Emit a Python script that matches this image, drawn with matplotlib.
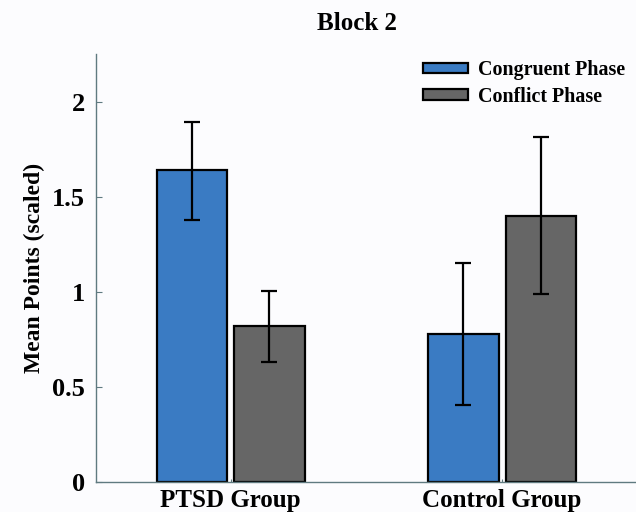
import matplotlib
matplotlib.use("Agg")
import matplotlib.pyplot as plt
import numpy as np
from matplotlib.patches import Patch

groups = ["PTSD Group", "Control Group"]
series_names = ["Congruent Phase", "Conflict Phase"]
congruent = [1.64, 0.78]
conflict = [0.82, 1.40]
congruent_err_lo = [0.26, 0.375]
congruent_err_hi = [0.255, 0.375]
conflict_err_lo = [0.19, 0.41]
conflict_err_hi = [0.185, 0.415]
yticks = [0, 0.5, 1, 1.5, 2]
ytick_labels = ["0", "0.5", "1", "1.5", "2"]

plt.rcParams['font.family'] = ['Liberation Serif', 'DejaVu Serif']
plt.rcParams['font.weight'] = 'bold'

bg = "#fcfcfe"
blue = "#3a7bc3"
gray = "#666666"
axis_col = "#5f7a80"

fig = plt.figure(figsize=(6.36, 5.12), dpi=100, facecolor=bg)
ax = fig.add_axes([96/636, 1-482/512, 540/636, (482-54)/512], facecolor=bg)

x = np.arange(len(groups))
w = 0.2597
off = 0.1427
ax.bar(x - off, congruent, w, color=blue, edgecolor="black", linewidth=1.6,
       yerr=[congruent_err_lo, congruent_err_hi], capsize=6,
       error_kw=dict(elinewidth=1.6, capthick=1.6, ecolor="black"), zorder=2)
ax.bar(x + off, conflict, w, color=gray, edgecolor="black", linewidth=1.6,
       yerr=[conflict_err_lo, conflict_err_hi], capsize=6,
       error_kw=dict(elinewidth=1.6, capthick=1.6, ecolor="black"), zorder=2)

ax.set_xlim(-0.496, 1.493)
ax.set_ylim(0, 2.253)
ax.set_yticks(yticks)
ax.set_yticklabels(ytick_labels, fontsize=19, fontweight='bold')
ax.set_xticks(x)
ax.set_xticklabels(groups, fontsize=18, fontweight='bold')
ax.tick_params(axis='y', direction='in', length=4, width=0.8, color=axis_col, pad=8)
ax.tick_params(axis='x', direction='in', length=2, width=0.8, color=axis_col, pad=5)
for s in ['top', 'right']:
    ax.spines[s].set_visible(False)
for s in ['left', 'bottom']:
    ax.spines[s].set_color(axis_col)
    ax.spines[s].set_linewidth(1.0)

ax.set_ylabel("Mean Points (scaled)", fontsize=17, fontweight='bold', labelpad=5)
fig.text(357/636, 1-23/512, "Block 2", ha='center', va='center', fontsize=18, fontweight='bold')

handles = [Patch(facecolor=blue, edgecolor='black', linewidth=1.6),
           Patch(facecolor=gray, edgecolor='black', linewidth=1.6)]
leg = ax.legend(handles, series_names, loc='upper left', bbox_to_anchor=(423/636, 1-60/512),
                bbox_transform=fig.transFigure, frameon=False,
                handlelength=2.25, handleheight=0.4, handletextpad=0.5, labelspacing=0.33,
                borderpad=0, borderaxespad=0,
                prop=dict(weight='bold', size=14.4))

fig.savefig("out.png", dpi=100, facecolor=bg)
